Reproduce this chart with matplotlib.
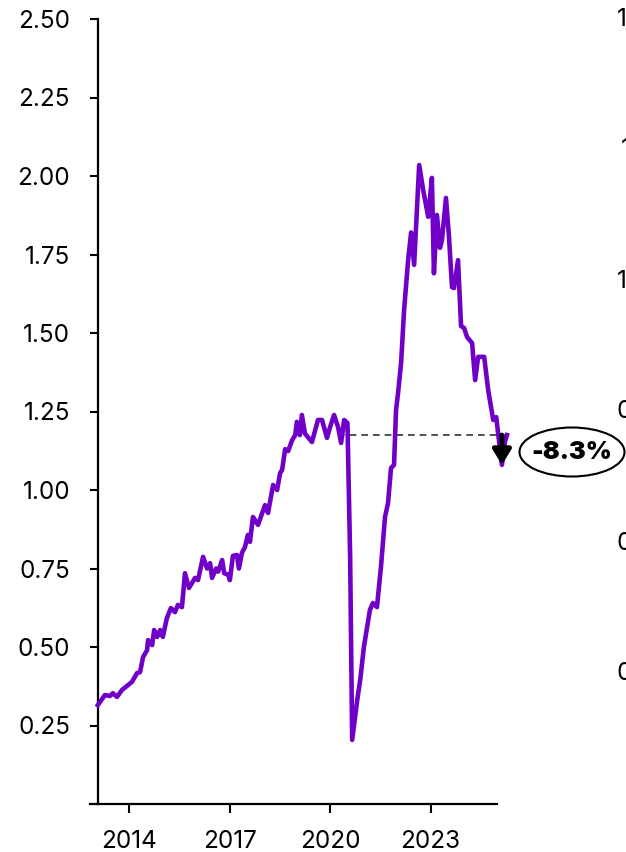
import matplotlib
matplotlib.use("Agg")
import matplotlib.pyplot as plt
from matplotlib.patches import Ellipse

# Veriler (grafikten okunan yaklaşık değerler, ondalık yıl)
years = [2013.07, 2013.28, 2013.43, 2013.52, 2013.64, 2013.79, 2013.94, 2014.09,
         2014.24, 2014.33, 2014.42, 2014.54, 2014.57, 2014.69, 2014.75, 2014.84,
         2014.93, 2015.01, 2015.13, 2015.25, 2015.37, 2015.46, 2015.58, 2015.67,
         2015.79, 2015.97, 2016.06, 2016.21, 2016.33, 2016.42, 2016.48, 2016.60,
         2016.66, 2016.78, 2016.84, 2016.96, 2017.01, 2017.10, 2017.22, 2017.28,
         2017.37, 2017.46, 2017.55, 2017.61, 2017.70, 2017.85, 2018.06, 2018.15,
         2018.30, 2018.42, 2018.51, 2018.57, 2018.66, 2018.75, 2018.87, 2018.96,
         2019.01, 2019.10, 2019.16, 2019.25, 2019.46, 2019.64, 2019.76, 2019.91,
         2020.00, 2020.12, 2020.24, 2020.33, 2020.42, 2020.52, 2020.60, 2020.66,
         2020.81, 2020.90, 2021.01, 2021.19, 2021.28, 2021.40, 2021.52, 2021.64,
         2021.73, 2021.82, 2021.91, 2021.97, 2022.03, 2022.12, 2022.21, 2022.33,
         2022.42, 2022.51, 2022.66, 2022.78, 2022.93, 2023.04, 2023.10, 2023.19,
         2023.28, 2023.34, 2023.46, 2023.55, 2023.64, 2023.70, 2023.82, 2023.91,
         2024.00, 2024.09, 2024.24, 2024.33, 2024.42, 2024.60, 2024.72, 2024.87,
         2024.96, 2025.04, 2025.13, 2025.22, 2025.28]
values = [0.315, 0.347, 0.344, 0.353, 0.341, 0.363, 0.376, 0.389,
          0.417, 0.420, 0.468, 0.490, 0.522, 0.506, 0.554, 0.532,
          0.554, 0.532, 0.592, 0.624, 0.611, 0.634, 0.627, 0.735,
          0.688, 0.720, 0.713, 0.787, 0.750, 0.767, 0.720, 0.750,
          0.740, 0.777, 0.735, 0.730, 0.713, 0.790, 0.793, 0.750,
          0.800, 0.818, 0.857, 0.835, 0.914, 0.889, 0.952, 0.927,
          1.016, 1.000, 1.054, 1.064, 1.130, 1.124, 1.159, 1.175,
          1.217, 1.175, 1.239, 1.180, 1.153, 1.223, 1.223, 1.166,
          1.200, 1.239, 1.200, 1.150, 1.223, 1.213, 0.787, 0.204,
          0.330, 0.395, 0.500, 0.618, 0.640, 0.627, 0.755, 0.914,
          0.958, 1.070, 1.080, 1.255, 1.309, 1.404, 1.573, 1.732,
          1.820, 1.717, 2.035, 1.955, 1.870, 1.994, 1.690, 1.876,
          1.771, 1.796, 1.930, 1.806, 1.646, 1.643, 1.732, 1.522,
          1.516, 1.487, 1.468, 1.350, 1.424, 1.424, 1.318, 1.223,
          1.232, 1.159, 1.080, 1.153, 1.175]

x_ticks = [2014, 2017, 2020, 2023]
y_ticks = [0.25, 0.50, 0.75, 1.00, 1.25, 1.50, 1.75, 2.00, 2.25, 2.50]

ref_start = 2020.24       # kesikli çizginin başladığı yer
dip_year = 2025.13        # en düşük nokta
change_label = "-8.3%"

# Sağda kesilmiş ikinci eksenin etiketleri
right_labels = ["1.50", "1.25", "1.00", "0.75", "0.50", "0.25"]

plt.rcParams['font.family'] = ['Inter', 'DejaVu Sans']

W, H = 626, 852
fig = plt.figure(figsize=(W / 100, H / 100), dpi=100)
ax = fig.add_axes([90 / W, 48 / H, 425 / W, 785 / H])

purple = "#7000C8"
ax.plot(years, values, color=purple, lw=3.3, solid_joinstyle='round', zorder=3)

last_val = values[-1]
dip_val = min(values[-5:])
ax.plot([ref_start, years[-1]], [last_val, last_val], ls=(0, (4, 3)),
        color="#333333", lw=1.2, zorder=2)
ax.annotate("", xy=(dip_year, dip_val), xytext=(dip_year, last_val),
            arrowprops=dict(arrowstyle="-|>,head_width=0.55,head_length=0.9",
                            color="black", lw=3.5, shrinkA=0, shrinkB=0),
            zorder=5)

ax.set_xlim(2012.836, 2025.52)
ax.set_ylim(0, 2.5)
ax.set_xticks(x_ticks)
ax.set_xticklabels([str(y) for y in x_ticks])
ax.set_yticks(y_ticks)
ax.set_yticklabels([f"{v:.2f}" for v in y_ticks])

for s in ['top', 'right']:
    ax.spines[s].set_visible(False)
ax.spines['left'].set_position(('data', 2013.07))
ax.spines['bottom'].set_bounds(2012.836, 2024.985)
for s in ['left', 'bottom']:
    ax.spines[s].set_linewidth(1.6)

ax.tick_params(axis='y', direction='out', length=6, width=1.5, labelsize=17.5, pad=14)
ax.tick_params(axis='x', direction='out', length=6.5, width=1.5, labelsize=17.5, pad=12)

# Elips içindeki değişim etiketi
ell = Ellipse((572 / W, 1 - 452 / H), 105 / W, 49 / H, transform=fig.transFigure,
              facecolor='white', edgecolor='black', lw=1.5)
fig.add_artist(ell)
fig.text(572 / W, 1 - 453 / H, change_label, ha='center', va='center',
         fontsize=18, fontweight='black')

# Sağ kenarda kesilen etiketler
for i, lab in enumerate(right_labels):
    xpos = 621 if i == 1 else 617
    fig.text(xpos / W, 1 - (19 + 131 * i) / H, lab, ha='left', va='center', fontsize=17.5)

fig.savefig("out.png", dpi=100)
